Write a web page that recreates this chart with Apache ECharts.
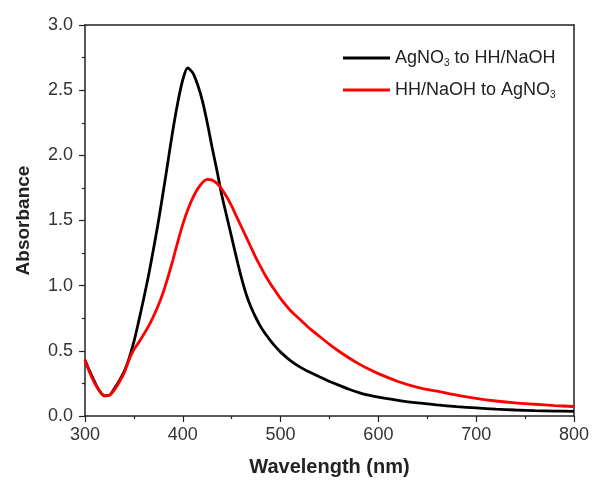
<!DOCTYPE html>
<html>
<head>
<meta charset="utf-8">
<script src="https://cdn.jsdelivr.net/npm/echarts@6/dist/echarts.min.js"></script>
<style>html,body{margin:0;padding:0;background:#fff}#c{width:592px;height:482px}</style>
</head>
<body>
<div id="c"></div>
<script>
var wavelengths = [300,305,310,315,320,325,330,335,340,345,350,355,360,365,370,375,380,385,390,395,400,405,410,415,420,425,430,435,440,445,450,455,460,465,470,475,480,485,490,495,500,510,520,530,540,550,560,570,580,590,600,620,640,660,680,700,720,740,760,780,800];
var blackSeries = [0.43,0.34,0.26,0.19,0.155,0.16,0.21,0.27,0.34,0.44,0.57,0.73,0.90,1.08,1.28,1.49,1.72,1.96,2.20,2.41,2.58,2.67,2.635,2.545,2.42,2.25,2.06,1.88,1.69,1.53,1.37,1.21,1.06,0.93,0.83,0.75,0.68,0.625,0.575,0.53,0.49,0.425,0.375,0.335,0.30,0.265,0.235,0.205,0.18,0.16,0.145,0.12,0.10,0.085,0.072,0.062,0.053,0.046,0.041,0.038,0.036];
var redSeries = [0.43,0.33,0.25,0.19,0.155,0.16,0.20,0.26,0.33,0.43,0.51,0.565,0.625,0.69,0.765,0.85,0.95,1.07,1.20,1.34,1.47,1.58,1.67,1.74,1.79,1.815,1.81,1.785,1.74,1.68,1.61,1.53,1.45,1.37,1.29,1.21,1.14,1.07,1.01,0.955,0.90,0.81,0.74,0.67,0.61,0.55,0.495,0.445,0.40,0.36,0.325,0.265,0.22,0.19,0.16,0.135,0.115,0.10,0.09,0.08,0.073];
var seriesNames = ['AgNO3 to HH/NaOH', 'HH/NaOH to AgNO3'];
var legendLabels = ['AgNO{sub|3} to HH/NaOH', 'HH/NaOH to AgNO{sub|3}'];
var xLabel = 'Wavelength (nm)';
var yLabel = 'Absorbance';

function pairs(ys){ return wavelengths.map(function(w,i){ return [w, ys[i]]; }); }

var axisColor = '#222';
var font = 'Liberation Sans, Arial, sans-serif';
var chart = echarts.init(document.getElementById('c'), null, {renderer:'canvas'});
chart.setOption({
  animation: false,
  backgroundColor: '#fff',
  grid: {left: 85, right: 17, top: 25, bottom: 63},
  legend: {
    left: 338, top: 44, orient: 'vertical', itemGap: 13, itemWidth: 47, itemHeight: 14,
    icon: 'path://M0,6L47,6L47,9L0,9Z',
    data: seriesNames,
    formatter: function(n){ return legendLabels[seriesNames.indexOf(n)]; },
    textStyle: {fontFamily: font, fontSize: 18, color: '#222',
      rich: {sub: {fontFamily: font, fontSize: 10, color: '#222', padding: [10,0,0,0]}}}
  },
  xAxis: [{
    type: 'value', min: 300, max: 800, interval: 100,
    name: xLabel, nameLocation: 'middle', nameGap: 41,
    nameTextStyle: {fontFamily: font, fontSize: 20, fontWeight: 'bold', color: '#222'},
    axisLine: {lineStyle: {color: axisColor, width: 1.5}},
    axisTick: {length: 6, lineStyle: {color: axisColor, width: 1.2}},
    minorTick: {show: true, splitNumber: 2, length: 3, lineStyle: {color: axisColor, width: 1.2}},
    splitLine: {show: false},
    axisLabel: {fontFamily: font, fontSize: 18, color: '#333', margin: 10}
  }, {
    type: 'value', min: 300, max: 800, position: 'top',
    axisLine: {show: true, onZero: false, lineStyle: {color: axisColor, width: 1.5}},
    axisTick: {show: false}, axisLabel: {show: false}, splitLine: {show: false}
  }],
  yAxis: [{
    type: 'value', min: 0, max: 3, interval: 0.5,
    name: yLabel, nameLocation: 'middle', nameGap: 52, nameRotate: 90,
    nameTextStyle: {fontFamily: font, fontSize: 19, fontWeight: 'bold', color: '#222'},
    axisLine: {show: true, lineStyle: {color: axisColor, width: 1.5}},
    axisTick: {show: true, length: 6, lineStyle: {color: axisColor, width: 1.2}},
    minorTick: {show: true, splitNumber: 2, length: 3, lineStyle: {color: axisColor, width: 1.2}},
    splitLine: {show: false},
    axisLabel: {fontFamily: font, fontSize: 18, color: '#333', margin: 12,
      formatter: function(v){ return v.toFixed(1); }}
  }, {
    type: 'value', min: 0, max: 3, position: 'right',
    axisLine: {show: true, onZero: false, lineStyle: {color: axisColor, width: 1.5}},
    axisTick: {show: false}, axisLabel: {show: false}, splitLine: {show: false}
  }],
  series: [{
    name: seriesNames[0], type: 'line', data: pairs(blackSeries), smooth: 0.3,
    showSymbol: false, lineStyle: {color: '#000', width: 2.8}, itemStyle: {color: '#000'}
  }, {
    name: seriesNames[1], type: 'line', data: pairs(redSeries), smooth: 0.3,
    showSymbol: false, lineStyle: {color: '#ff0000', width: 2.8}, itemStyle: {color: '#ff0000'}
  }]
});
</script>
</body>
</html>
